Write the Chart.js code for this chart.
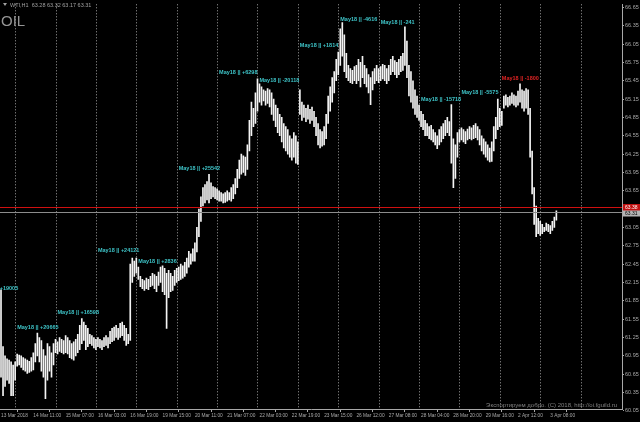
<!DOCTYPE html>
<html>
<head>
<meta charset="utf-8">
<script src="https://cdn.jsdelivr.net/npm/chart.js@4.4.1/dist/chart.umd.min.js"></script>
<style>
  html, body { margin: 0; padding: 0; background: #000; }
  #wrap { width: 640px; height: 422px; }
</style>
</head>
<body>
<div id="wrap"><canvas id="oilChart" width="640" height="422"></canvas></div>
<script>
// WTI H1 bars, one entry per hour bar
const highs = [
  62.03, 61.10, 60.95, 60.90, 60.88, 60.85, 60.80, 60.85, 60.98, 60.96, 60.95, 60.92, 60.90, 60.88, 60.86, 60.92,
  61.00, 61.15, 61.32, 61.25, 61.20, 61.05, 60.95, 61.15, 61.10, 61.00, 61.15, 61.22, 61.18, 61.25, 61.22, 61.20,
  61.28, 61.25, 61.20, 61.15, 61.18, 61.22, 61.30, 61.45, 61.56, 61.50, 61.45, 61.40, 61.30, 61.28, 61.25, 61.22,
  61.25, 61.22, 61.20, 61.25, 61.28, 61.25, 61.35, 61.40, 61.42, 61.45, 61.40, 61.48, 61.50, 61.45, 61.40, 61.30,
  62.45, 62.55, 62.50, 62.55, 62.40, 62.25, 62.20, 62.18, 62.22, 62.20, 62.25, 62.30, 62.28, 62.25, 62.32, 62.40,
  62.42, 62.38, 62.30, 62.35, 62.30, 62.25, 62.35, 62.38, 62.40, 62.45, 62.42, 62.48, 62.55, 62.66, 62.62, 62.70,
  62.80, 63.05, 63.35, 63.55, 63.70, 63.75, 63.80, 63.92, 63.78, 63.72, 63.70, 63.68, 63.65, 63.62, 63.60, 63.62,
  63.65, 63.62, 63.70, 63.75, 63.85, 64.00, 64.15, 64.25, 64.22, 64.20, 64.40, 64.80, 65.10, 65.00, 65.25, 65.48,
  65.40, 65.35, 65.30, 65.28, 65.32, 65.30, 65.25, 65.15, 65.05, 65.00, 64.90, 64.85, 64.75, 64.70, 64.65, 64.55,
  64.50, 64.60, 64.55, 64.45, 65.30, 65.10, 65.05, 65.00, 65.05, 64.98, 65.02, 64.95, 64.85, 64.75, 64.65, 64.62,
  64.70, 64.90, 65.20, 65.35, 65.50, 65.60, 65.80, 65.92, 66.30, 66.40, 66.20, 65.90, 65.70, 65.65, 65.62, 65.68,
  65.70, 65.80, 65.75, 65.85, 65.70, 65.65, 65.55, 65.50, 65.60, 65.65, 65.70, 65.65, 65.68, 65.72, 65.70, 65.65,
  65.70, 65.80, 65.85, 65.78, 65.75, 65.80, 65.85, 65.90, 66.33, 66.10, 65.70, 65.60, 65.45, 65.30, 65.20, 65.05,
  64.95, 64.90, 64.80, 64.75, 64.70, 64.72, 64.65, 64.60, 64.55, 64.65, 64.70, 64.75, 64.80, 64.85, 64.78, 65.06,
  64.50, 64.40, 64.60, 64.65, 64.68, 64.65, 64.62, 64.66, 64.70, 64.68, 64.72, 64.75, 64.70, 64.65, 64.55, 64.50,
  64.45, 64.40, 64.35, 64.45, 64.70, 64.85, 65.15, 65.00, 64.95, 65.20, 65.22, 65.18, 65.20, 65.25, 65.22, 65.20,
  65.28, 65.40, 65.30, 65.28, 65.32, 65.30, 65.00, 64.30, 63.70, 63.40, 63.20, 63.15, 63.10, 63.05, 63.12, 63.10,
  63.08, 63.15, 63.22, 63.32
];
const lows = [
  60.60, 60.30, 60.45, 60.55, 60.50, 60.30, 60.30, 60.55, 60.78, 60.80, 60.76, 60.72, 60.70, 60.66, 60.68, 60.70,
  60.72, 60.85, 60.95, 60.85, 60.70, 60.60, 60.25, 60.55, 60.70, 60.60, 60.80, 61.00, 60.98, 61.02, 61.00, 60.98,
  61.00, 60.98, 60.92, 60.90, 60.88, 60.95, 61.00, 61.05, 61.15, 61.20, 61.05, 61.10, 61.15, 61.12, 61.08, 61.05,
  61.10, 61.08, 61.05, 61.10, 61.12, 61.08, 61.15, 61.18, 61.20, 61.25, 61.22, 61.25, 61.28, 61.20, 61.12, 61.15,
  61.20, 62.15, 62.25, 62.30, 62.20, 62.08, 62.05, 62.02, 62.05, 62.03, 62.08, 62.10, 62.05, 62.00, 62.10, 62.15,
  62.00, 61.95, 61.40, 61.90, 62.00, 62.02, 62.10, 62.15, 62.18, 62.20, 62.22, 62.25, 62.30, 62.40, 62.45, 62.50,
  62.50, 62.65, 62.90, 63.15, 63.40, 63.45, 63.50, 63.45, 63.52, 63.55, 63.52, 63.50, 63.48, 63.48, 63.45, 63.46,
  63.48, 63.50, 63.48, 63.52, 63.60, 63.70, 63.85, 63.92, 63.95, 63.90, 64.00, 64.30, 64.55, 64.70, 64.75, 64.95,
  65.10, 65.05, 65.12, 65.05, 65.08, 65.02, 64.90, 64.80, 64.70, 64.60, 64.55, 64.45, 64.35, 64.30, 64.25, 64.20,
  64.15, 64.20, 64.10, 64.08, 64.90, 64.80, 64.85, 64.78, 64.82, 64.75, 64.80, 64.70, 64.55, 64.40, 64.35, 64.38,
  64.40, 64.50, 64.75, 64.95, 65.10, 65.25, 65.45, 65.55, 65.70, 65.85, 65.60, 65.50, 65.45, 65.42, 65.40, 65.45,
  65.40, 65.45, 65.35, 65.50, 65.40, 65.35, 65.25, 65.06, 65.30, 65.40, 65.45, 65.42, 65.45, 65.48, 65.45, 65.40,
  65.45, 65.55, 65.60, 65.55, 65.50, 65.55, 65.60, 65.62, 65.70, 65.50, 65.20, 65.10, 65.00, 64.90, 64.85, 64.80,
  64.70, 64.65, 64.55, 64.55, 64.50, 64.48, 64.45, 64.40, 64.34, 64.40, 64.45, 64.50, 64.55, 64.60, 64.55, 64.10,
  63.70, 63.85, 64.20, 64.45, 64.48, 64.45, 64.42, 64.48, 64.50, 64.48, 64.50, 64.52, 64.48, 64.40, 64.30, 64.25,
  64.20, 64.15, 64.12, 64.13, 64.30, 64.50, 64.65, 64.70, 64.72, 65.00, 65.05, 65.02, 65.05, 65.08, 65.05, 65.02,
  65.05, 65.10, 65.00, 64.95, 65.00, 64.90, 64.20, 63.60, 63.10, 62.90, 62.95, 62.92, 62.95, 62.98, 63.00, 62.98,
  62.95, 63.00, 63.05, 63.17
];

// time axis: bar index of each label and its text
const timeIdx = [0, 16, 32, 48, 64, 80, 96, 112, 128, 144, 160, 176, 192, 208, 224, 240, 256, 272];
const timeLabels = ['13 Mar 2018', '14 Mar 11:00', '15 Mar 07:00', '16 Mar 03:00', '16 Mar 19:00', '19 Mar 15:00',
  '20 Mar 11:00', '21 Mar 07:00', '22 Mar 03:00', '22 Mar 19:00', '23 Mar 15:00', '26 Mar 12:00',
  '27 Mar 08:00', '28 Mar 04:00', '28 Mar 20:00', '29 Mar 16:00', '2 Apr 12:00', '3 Apr 08:00'];

// price axis labels
const priceTicks = [66.65, 66.35, 66.05, 65.75, 65.45, 65.15, 64.85, 64.55, 64.25, 63.95, 63.65, 63.35,
  63.05, 62.75, 62.45, 62.15, 61.85, 61.55, 61.25, 60.95, 60.65, 60.35, 60.05];

// dotted period separators (bar index)
const gridIdx = [7, 27, 47, 67, 87, 107, 127, 147, 167, 187, 207, 227, 247, 267, 287];

// May18 volume notes: anchor bar, price, text
const noteIdx = [-13, 7, 27, 47, 67, 87, 107, 127, 147, 167, 187, 207, 227, 247];
const notePrice = [62.05, 61.41, 61.66, 62.67, 62.49, 64.02, 65.58, 65.46, 66.02, 66.45, 66.41, 65.15, 65.25, 65.48];
const noteText = ['May18 || +19005', 'May18 || +20665', 'May18 || +16598', 'May18 || +24121', 'May18 || +2836',
  'May18 || +25542', 'May18 || +6298', 'May18 || -20118', 'May18 || +1814', 'May18 || -4616', 'May18 || -241',
  'May18 || -15718', 'May18 || -5575', 'May18 || -1800'];

const askPrice = 63.38;
const bidPrice = 63.31;
const headerText = 'WTI,H1  63.28 63.32 63.17 63.31';

const FONT = "'Liberation Sans', Arial, sans-serif";
const axisColor = '#a8a8a8';

const overlay = {
    id: 'overlay',
    beforeDatasetsDraw(chart) {
        const ctx = chart.ctx;
        const x = chart.scales.x;
        const area = chart.chartArea;
        ctx.save();
        ctx.strokeStyle = '#a0a0a0';
        ctx.lineWidth = 1;
        ctx.setLineDash([1, 2]);
        gridIdx.forEach(v => {
            const px = Math.round(x.getPixelForValue(v)) + 0.5;
            ctx.beginPath();
            ctx.moveTo(px, area.top);
            ctx.lineTo(px, area.bottom);
            ctx.stroke();
        });
        ctx.restore();
    },
    afterDatasetsDraw(chart) {
        const ctx = chart.ctx;
        const x = chart.scales.x;
        const y = chart.scales.y;
        const area = chart.chartArea;
        ctx.save();

        // notes
        ctx.font = 'bold 5.5px ' + FONT;
        ctx.textBaseline = 'middle';
        ctx.textAlign = 'left';
        noteText.forEach((t, i) => {
            ctx.fillStyle = t.indexOf('-1800') > 0 ? '#e02424' : '#3ec4c8';
            ctx.fillText(t, x.getPixelForValue(noteIdx[i]) + 2, y.getPixelForValue(notePrice[i]));
        });

        // ask / bid lines
        const ya = Math.round(y.getPixelForValue(askPrice)) + 0.5;
        const yb = Math.round(y.getPixelForValue(bidPrice)) + 0.5;
        ctx.lineWidth = 1;
        ctx.strokeStyle = '#d01010';
        ctx.beginPath(); ctx.moveTo(area.left, ya); ctx.lineTo(area.right, ya); ctx.stroke();
        ctx.strokeStyle = '#8c8c8c';
        ctx.beginPath(); ctx.moveTo(area.left, yb); ctx.lineTo(area.right, yb); ctx.stroke();

        // price boxes on the axis
        ctx.font = '5px ' + FONT;
        ctx.fillStyle = '#c01010';
        ctx.fillRect(area.right + 1, ya - 3.5, 17, 7);
        ctx.fillStyle = '#ffffff';
        ctx.fillText(askPrice.toFixed(2), area.right + 3, ya);
        ctx.fillStyle = '#b4b4b4';
        ctx.fillRect(area.right + 1, yb - 2, 17, 6);
        ctx.fillStyle = '#000000';
        ctx.fillText(bidPrice.toFixed(2), area.right + 3, yb + 1);

        // header
        ctx.fillStyle = '#a0a0a0';
        ctx.beginPath();
        ctx.moveTo(3, 3); ctx.lineTo(7, 3); ctx.lineTo(5, 6); ctx.closePath(); ctx.fill();
        ctx.font = '5.5px ' + FONT;
        ctx.fillText(headerText, 10, 5);
        ctx.fillStyle = '#959595';
        ctx.font = '15px ' + FONT;
        ctx.textBaseline = 'alphabetic';
        ctx.fillText('OIL', 1, 26);

        // watermark
        ctx.fillStyle = '#808080';
        ctx.font = '6px ' + FONT;
        ctx.textAlign = 'right';
        ctx.textBaseline = 'middle';
        ctx.fillText('Экспортируем добро. (C) 2018, http://oi.fguild.ru', 617, 405);
        ctx.restore();
    }
};

const ctx = document.getElementById('oilChart').getContext('2d');
new Chart(ctx, {
    type: 'bar',
    data: {
        datasets: [{
            data: highs.map((h, i) => ({ x: i, y: [lows[i], h] })),
            backgroundColor: '#f4f4f4',
            borderWidth: 0,
            barThickness: 1,
            grouped: false
        }]
    },
    options: {
        responsive: false,
        animation: false,
        layout: { padding: { top: 2, left: 0, right: 0, bottom: 0 } },
        plugins: {
            legend: { display: false },
            tooltip: { enabled: false }
        },
        scales: {
            x: {
                type: 'linear',
                min: -0.5,
                max: 307.5,
                offset: false,
                afterBuildTicks: a => { a.ticks = timeIdx.map(v => ({ value: v })); },
                afterFit: a => { a.height = 13; },
                ticks: {
                    autoSkip: false,
                    maxRotation: 0,
                    align: 'start',
                    padding: 1,
                    color: axisColor,
                    font: { family: FONT, size: 4.8 },
                    callback: (v, i) => timeLabels[i]
                },
                grid: { drawOnChartArea: false, tickLength: 3, color: axisColor },
                border: { color: axisColor }
            },
            y: {
                position: 'right',
                min: 60.08,
                max: 66.70,
                afterBuildTicks: a => { a.ticks = priceTicks.map(v => ({ value: v })); },
                afterFit: a => { a.width = 18; },
                ticks: {
                    padding: 1,
                    color: axisColor,
                    font: { family: FONT, size: 5.5 },
                    callback: v => v.toFixed(2)
                },
                grid: { drawOnChartArea: false, tickLength: 2, color: axisColor },
                border: { color: axisColor }
            }
        }
    },
    plugins: [overlay]
});
</script>
</body>
</html>
